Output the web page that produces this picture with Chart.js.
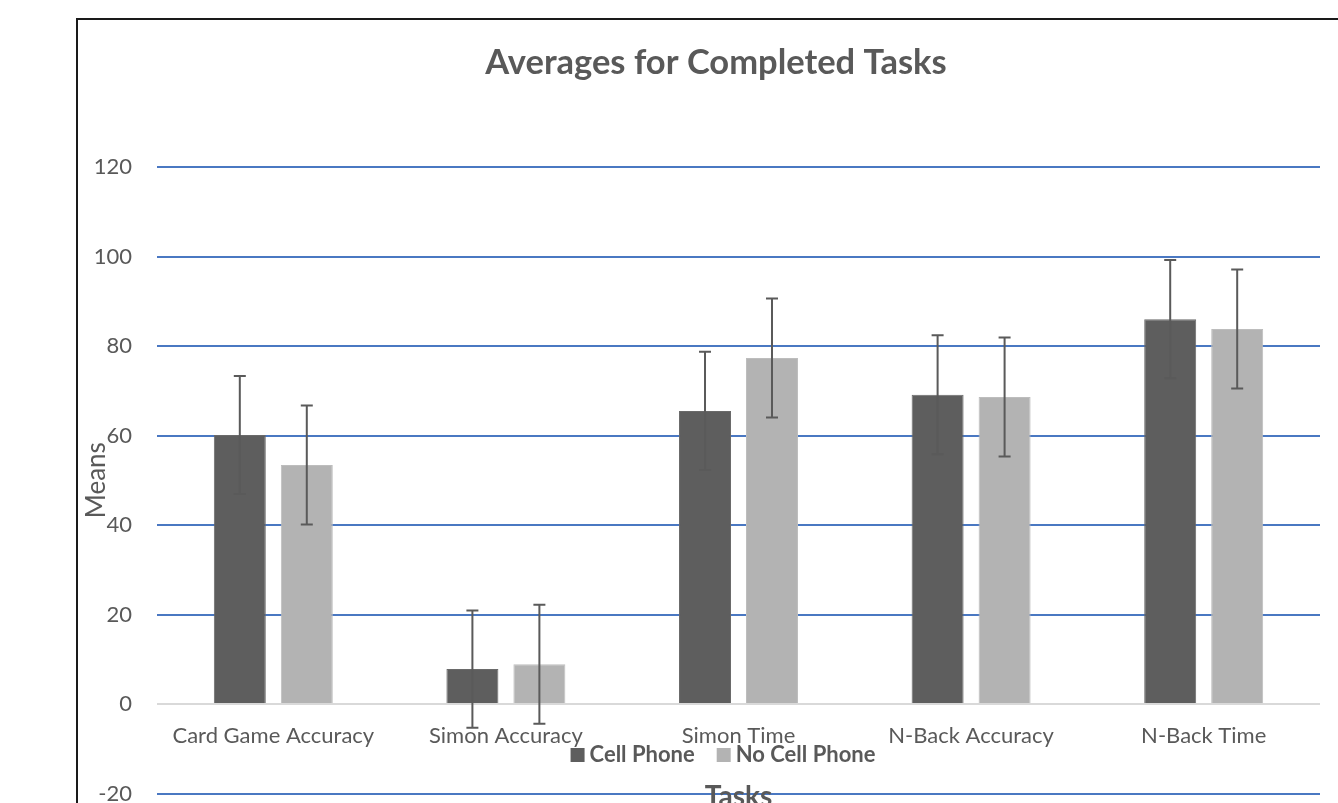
<!DOCTYPE html>
<html>
<head>
<meta charset="utf-8">
<script src="https://cdn.jsdelivr.net/npm/chart.js@4.4.1/dist/chart.umd.min.js"></script>
<style>
html, body { margin: 0; padding: 0; background: #fff; overflow: hidden; width: 1338px; height: 803px; }
#box { position: absolute; left: 76px; top: 18px; width: 1276px; height: 800px; border: 2px solid #1a1a1a; }
#tasksChart { display: block; }
</style>
</head>
<body>
<div id="box"><canvas id="tasksChart" width="1276" height="800"></canvas></div>
<script>
const categories = ['Card Game Accuracy', 'Simon Accuracy', 'Simon Time', 'N-Back Accuracy', 'N-Back Time'];
const cellPhone = [60.1, 7.8, 65.5, 69.1, 86.0];
const noCellPhone = [53.4, 8.9, 77.3, 68.6, 83.8];
const cellPhoneErr = [13.2, 13.1, 13.2, 13.3, 13.2];
const noCellPhoneErr = [13.3, 13.3, 13.3, 13.3, 13.3];
const yTicks = [-20, 0, 20, 40, 60, 80, 100, 120];

const FONT = 'Lato, "Noto Sans", sans-serif';
const TEXT_GREY = '#595959';

// error bars + labels drawn on top, positions come from the chart scales
const extrasPlugin = {
    id: 'extras',
    afterDatasetsDraw(chart) {
        const ctx = chart.ctx;
        const yScale = chart.scales.y;
        chart.data.datasets.forEach((ds, i) => {
            const meta = chart.getDatasetMeta(i);
            meta.data.forEach((bar, j) => {
                const v = ds.data[j];
                const e = ds.errors[j];
                const yTop = yScale.getPixelForValue(v + e);
                const yBot = yScale.getPixelForValue(v - e);
                ctx.save();
                ctx.strokeStyle = '#5a5a5a';
                ctx.lineWidth = 2;
                ctx.beginPath();
                ctx.moveTo(bar.x, yTop);
                ctx.lineTo(bar.x, yBot);
                ctx.moveTo(bar.x - 6, yTop);
                ctx.lineTo(bar.x + 6, yTop);
                ctx.moveTo(bar.x - 6, yBot);
                ctx.lineTo(bar.x + 6, yBot);
                ctx.stroke();
                ctx.restore();
            });
        });
    },
    afterDraw(chart) {
        const ctx = chart.ctx;
        const xScale = chart.scales.x;
        const yScale = chart.scales.y;
        const area = chart.chartArea;
        const zeroY = yScale.getPixelForValue(0);

        ctx.save();
        ctx.fillStyle = TEXT_GREY;
        ctx.textAlign = 'center';
        ctx.textBaseline = 'middle';
        ctx.font = '22px ' + FONT;
        categories.forEach((c, i) => {
            ctx.fillText(c, xScale.getPixelForValue(i), zeroY + 32);
        });

        // legend
        ctx.font = 'bold 22px ' + FONT;
        const items = chart.data.datasets.map(ds => ({ label: ds.label, color: ds.backgroundColor }));
        const box = 14, gapBox = 5, gapItem = 22;
        let total = 0;
        items.forEach((it, i) => {
            total += box + gapBox + ctx.measureText(it.label).width;
            if (i < items.length - 1) total += gapItem;
        });
        let lx = chart.width / 2 + 7 - total / 2;
        const ly = zeroY + 51;
        ctx.textAlign = 'left';
        items.forEach(it => {
            ctx.fillStyle = it.color;
            ctx.fillRect(lx, ly - box / 2, box, box);
            lx += box + gapBox;
            ctx.fillStyle = TEXT_GREY;
            ctx.fillText(it.label, lx, ly);
            lx += ctx.measureText(it.label).width + gapItem;
        });

        // axis titles
        ctx.textAlign = 'center';
        ctx.font = 'bold 28px ' + FONT;
        ctx.fillText('Tasks', (area.left + area.right) / 2, area.bottom + 3);

        ctx.font = '26px ' + FONT;
        ctx.translate(19, (area.top + area.bottom) / 2);
        ctx.rotate(-Math.PI / 2);
        ctx.fillText('Means', 0, 0);
        ctx.restore();
    }
};

const tasksChart = new Chart(document.getElementById('tasksChart').getContext('2d'), {
    type: 'bar',
    data: {
        labels: categories,
        datasets: [{
            label: 'Cell Phone',
            data: cellPhone,
            errors: cellPhoneErr,
            backgroundColor: '#5e5e5e',
            borderColor: '#6a6a6a',
            borderWidth: 1,
            categoryPercentage: 0.576,
            barPercentage: 0.776
        }, {
            label: 'No Cell Phone',
            data: noCellPhone,
            errors: noCellPhoneErr,
            backgroundColor: '#b3b3b3',
            borderColor: '#bdbdbd',
            borderWidth: 1,
            categoryPercentage: 0.576,
            barPercentage: 0.776
        }]
    },
    options: {
        responsive: false,
        animation: false,
        layout: { padding: { left: 0, right: 0, top: 0, bottom: 26.5 } },
        plugins: {
            legend: { display: false },
            tooltip: { enabled: false },
            title: {
                display: true,
                text: 'Averages for Completed Tasks',
                color: TEXT_GREY,
                font: { family: FONT, size: 34.5, weight: 'bold', lineHeight: 1.2 },
                padding: { top: 22, bottom: 83.6 }
            }
        },
        scales: {
            x: { display: false },
            y: {
                min: -20,
                max: 120,
                afterFit(scale) { scale.width = 79; },
                afterBuildTicks(scale) { scale.ticks = yTicks.map(v => ({ value: v })); },
                ticks: { color: TEXT_GREY, font: { family: FONT, size: 22 }, padding: 0 },
                grid: {
                    drawTicks: true,
                    tickLength: 25,
                    tickColor: 'rgba(0,0,0,0)',
                    lineWidth: 2,
                    color: c => (c.tick && c.tick.value === 0 ? '#d9d9d9' : '#4a78c2')
                },
                border: { display: false }
            },
            // empty right margin so the title stays centred on the whole frame
            yRight: {
                position: 'right',
                min: -20,
                max: 120,
                afterFit(scale) { scale.width = 34; },
                ticks: { display: false },
                grid: { display: false },
                border: { display: false }
            }
        }
    },
    plugins: [extrasPlugin]
});
</script>
</body>
</html>
